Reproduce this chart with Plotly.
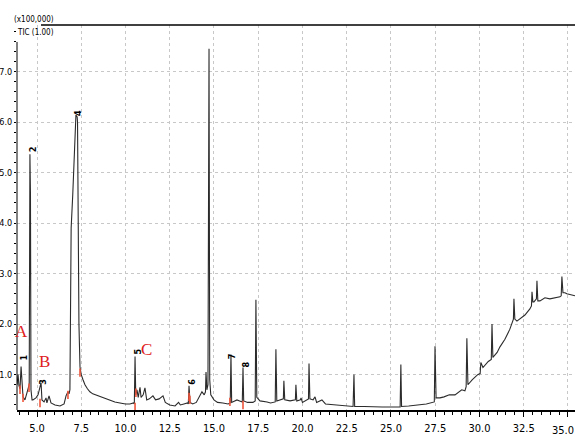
import plotly.graph_objects as go

# Retention time (min) and TIC intensity (x100,000)
time = [3.87, 3.93, 3.98, 4.04, 4.10, 4.16, 4.21, 4.32, 4.41, 4.50, 4.56, 4.60, 4.63, 4.66, 4.72, 4.77,
        4.94, 5.06, 5.17, 5.23, 5.28, 5.40, 5.51, 5.56, 5.68, 5.79, 6.02, 6.30, 6.53, 6.64, 6.75, 6.81,
        6.86, 6.88, 6.93, 7.02, 7.09, 7.14, 7.20, 7.27, 7.29, 7.33, 7.37, 7.43, 7.50, 7.60, 7.71, 7.85,
        7.99, 8.15, 8.30, 8.45, 8.56, 8.75, 8.90, 9.12, 9.40, 9.69, 10.00, 10.25, 10.45, 10.50, 10.54,
        10.58, 10.65, 10.72, 10.82, 10.88, 11.00, 11.10, 11.20, 11.35, 11.55, 11.70, 11.90, 12.12, 12.25,
        12.50, 12.80, 13.00, 13.10, 13.30, 13.50, 13.55, 13.59, 13.65, 13.80, 14.00, 14.20, 14.32, 14.45,
        14.52, 14.55, 14.60, 14.66, 14.72, 14.76, 14.82, 15.00, 15.20, 15.50, 15.80, 15.92, 15.96, 16.00,
        16.30, 16.45, 16.60, 16.64, 16.68, 16.90, 17.20, 17.33, 17.37, 17.42, 17.60, 18.00, 18.20, 18.46,
        18.50, 18.55, 18.80, 18.92, 18.95, 19.00, 19.30, 19.50, 19.60, 19.63, 19.68, 19.88, 19.92, 20.00,
        20.25, 20.34, 20.37, 20.42, 20.60, 20.71, 20.80, 21.10, 21.30, 21.80, 22.30, 22.86, 22.91, 22.95,
        23.50, 24.00, 24.50, 25.00, 25.52, 25.56, 25.60, 26.00, 26.50, 27.00, 27.45, 27.49, 27.55, 27.77,
        28.00, 28.30, 28.62, 29.00, 29.18, 29.25, 29.29, 29.35, 29.60, 29.90, 30.04, 30.08, 30.20, 30.50,
        30.67, 30.71, 30.76, 31.00, 31.16, 31.44, 31.72, 31.84, 31.92, 31.95, 32.00, 32.12, 32.35, 32.57,
        32.85, 32.94, 32.97, 33.02, 33.08, 33.22, 33.25, 33.30, 33.42, 33.70, 33.98, 34.27, 34.55, 34.62,
        34.66, 34.72, 34.83, 34.94, 35.11, 35.40]
intensity = [0.80, 1.00, 0.78, 0.72, 1.16, 0.74, 0.56, 0.50, 0.60, 0.74, 0.80, 5.36, 4.60, 0.70, 0.50, 0.50,
             0.54, 0.60, 0.76, 0.84, 0.50, 0.46, 0.54, 0.44, 0.58, 0.44, 0.40, 0.38, 0.42, 0.58, 0.66, 0.62,
             0.70, 2.76, 3.90, 4.56, 5.36, 5.50, 6.14, 6.10, 6.00, 4.00, 2.00, 1.15, 1.00, 0.90, 0.80, 0.72,
             0.66, 0.62, 0.60, 0.58, 0.56, 0.54, 0.52, 0.50, 0.46, 0.44, 0.42, 0.42, 0.44, 0.42, 1.36,
             0.60, 0.70, 0.55, 0.75, 0.55, 0.60, 0.74, 0.50, 0.52, 0.58, 0.50, 0.52, 0.58, 0.45,
             0.40, 0.38, 0.45, 0.40, 0.42, 0.44, 0.42, 0.78, 0.45, 0.42, 0.45, 0.60, 0.66, 0.60,
             0.66, 1.05, 0.70, 0.80, 7.45, 0.90, 0.60, 0.50, 0.45, 0.44, 0.42, 0.44, 1.40, 0.45,
             0.50, 0.48, 0.46, 1.14, 0.48, 0.45, 0.45, 0.48, 2.48, 0.55, 0.48, 0.46, 0.44, 0.46,
             1.50, 0.48, 0.50, 0.52, 0.88, 0.50, 0.48, 0.50, 0.50, 0.80, 0.48, 0.50, 0.54, 0.45,
             0.50, 0.52, 1.22, 0.52, 0.50, 0.56, 0.45, 0.50, 0.42, 0.40, 0.38, 0.37, 1.00, 0.37,
             0.37, 0.36, 0.36, 0.36, 0.36, 1.20, 0.37, 0.38, 0.40, 0.42, 0.46, 1.56, 0.54, 0.54,
             0.56, 0.60, 0.60, 0.70, 0.68, 0.76, 1.72, 0.80, 0.90, 1.00, 1.02, 1.24, 1.14, 1.26,
             1.30, 2.00, 1.34, 1.44, 1.55, 1.70, 1.90, 2.00, 2.10, 2.50, 2.10, 2.06, 2.12, 2.18,
             2.30, 2.36, 2.64, 2.44, 2.44, 2.50, 2.86, 2.46, 2.46, 2.52, 2.50, 2.52, 2.54, 2.56,
             2.94, 2.62, 2.62, 2.60, 2.58, 2.56]

# Axis ticks
x_tick_vals = [5.0, 7.5, 10.0, 12.5, 15.0, 17.5, 20.0, 22.5, 25.0, 27.5, 30.0, 32.5, 35.0]
x_tick_text = ["5.0", "7.5", "10.0", "12.5", "15.0", "17.5", "20.0", "22.5", "25.0", "27.5", "30.0", "32.5", ""]
last_tick_label = "35.0"

# Integration marks (red) along the trace
mark_time = [4.04, 4.21, 4.55, 5.17, 6.75, 7.43, 10.59, 10.54, 13.59, 13.64, 15.90, 16.64]
mark_int = [0.70, 0.54, 0.74, 0.44, 0.60, 1.04, 0.64, 0.36, 0.56, 0.50, 0.46, 0.40]

# Peak numbers (rotated labels)
peak_labels = ["1", "2", "3", "4", "5", "6", "7", "8"]
peak_label_time = [4.27, 4.77, 5.34, 7.32, 10.71, 13.76, 16.07, 16.81]
peak_label_int = [1.34, 5.46, 0.86, 6.18, 1.46, 0.86, 1.36, 1.20]

# Red letters
letters = ["A", "B", "C"]
letter_time = [4.10, 5.45, 11.16]
letter_int = [1.86, 1.26, 1.50]

narrow = "Liberation Sans Narrow, DejaVu Sans Condensed, Arial Narrow, sans-serif"

fig = go.Figure()
fig.add_trace(go.Scatter(x=time, y=intensity, mode="lines",
                         line=dict(color="#2b2b2b", width=1.1), hoverinfo="skip"))
fig.add_trace(go.Scatter(x=mark_time, y=mark_int, mode="markers",
                         marker=dict(symbol="line-ns-open", size=6,
                                     line=dict(color="#e8202a", width=1.6)),
                         hoverinfo="skip"))

for lab, t, v in zip(peak_labels, peak_label_time, peak_label_int):
    fig.add_annotation(x=t, y=v, text="<b>%s</b>" % lab, showarrow=False, textangle=-90,
                       font=dict(family=narrow, size=9, color="black"))
for lab, t, v in zip(letters, letter_time, letter_int):
    fig.add_annotation(x=t, y=v, text=lab, showarrow=False,
                       font=dict(family="Liberation Serif, DejaVu Serif, serif", size=17, color="#e02020"))

fig.add_annotation(xref="paper", yref="paper", x=-0.008, xanchor="left", y=1.0, yanchor="bottom",
                   text="(x100,000)", showarrow=False, borderpad=0,
                   font=dict(family=narrow, size=8, color="black"))
fig.add_annotation(xref="paper", yref="paper", x=-0.002, xanchor="left", y=0.996, yanchor="top",
                   text="TIC (1.00)", showarrow=False, borderpad=0,
                   font=dict(family=narrow, size=8, color="black"))
fig.add_annotation(xref="paper", yref="paper", x=1.0, xanchor="right", y=-0.034, yanchor="top",
                   text=last_tick_label, showarrow=False, borderpad=0,
                   font=dict(family=narrow, size=11, color="black"))

# header line and left axis line
fig.add_shape(type="line", xref="paper", yref="paper", x0=0.043, x1=1, y0=1, y1=1,
              line=dict(color="black", width=1.5))
fig.add_shape(type="line", xref="paper", yref="paper", x0=0, x1=0, y0=0, y1=0.956,
              line=dict(color="black", width=1))

fig.update_layout(
    width=575, height=440,
    margin=dict(l=17, r=0, t=25, b=30, autoexpand=False),
    paper_bgcolor="white", plot_bgcolor="white",
    showlegend=False,
    font=dict(family=narrow, size=12, color="black"),
    xaxis=dict(range=[3.87, 35.4], tickmode="array", tickvals=x_tick_vals, ticktext=x_tick_text,
               automargin=False, ticklabeloverflow="allow", ticklabelstandoff=2,
               showline=True, linecolor="black", linewidth=1.5,
               ticks="outside", ticklen=5, tickcolor="black",
               minor=dict(tickmode="linear", tick0=0, dtick=0.5, ticks="outside", ticklen=3,
                          tickcolor="black", showgrid=False),
               showgrid=True, gridcolor="#c8c8c8", griddash="dot", gridwidth=1,
               zeroline=False, tickfont=dict(family=narrow, size=11)),
    yaxis=dict(range=[0.3, 7.92], tick0=0, dtick=1, tickformat=".1f", automargin=False,
               ticklabeloverflow="allow",
               showline=False,
               ticks="outside", ticklen=2, tickcolor="black",
               minor=dict(dtick=0.2, ticks="outside", ticklen=2, tickcolor="black", showgrid=False),
               showgrid=True, gridcolor="#c8c8c8", griddash="dot", gridwidth=1,
               zeroline=False, tickfont=dict(family=narrow, size=9)),
)

fig.write_html("out.html", config={"displayModeBar": False},
               post_script="document.body.style.margin='0';document.body.style.overflow='hidden';")
